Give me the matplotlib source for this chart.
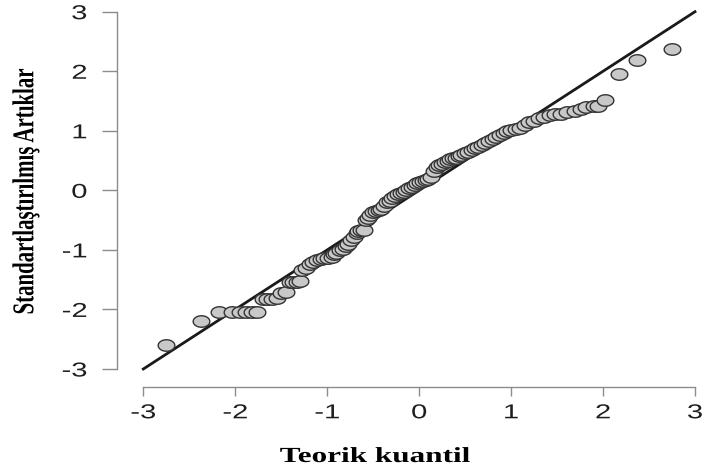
import numpy as np
import matplotlib
matplotlib.use("Agg")
import matplotlib.pyplot as plt
from matplotlib import patheffects
from matplotlib.transforms import Affine2D

plt.rcParams['axes.unicode_minus'] = False

# Theoretical quantiles (x) and standardized residuals (y)
teorik = [-2.75, -2.37, -2.18, -2.04, -1.95, -1.88, -1.82, -1.76, -1.70, -1.65,
          -1.60, -1.55, -1.50, -1.45, -1.41, -1.37, -1.33, -1.30, -1.27, -1.23,
          -1.19, -1.15, -1.11, -1.07, -1.03, -0.99, -0.95, -0.93, -0.90, -0.86,
          -0.83, -0.80, -0.77, -0.74, -0.71, -0.68, -0.66, -0.63, -0.60, -0.58,
          -0.56, -0.53, -0.50, -0.47, -0.44, -0.41, -0.38, -0.35, -0.32, -0.29,
          -0.26, -0.23, -0.20, -0.17, -0.14, -0.11, -0.08, -0.05, -0.02, 0.01,
          0.04, 0.07, 0.10, 0.13, 0.16, 0.19, 0.22, 0.25, 0.28, 0.31,
          0.34, 0.37, 0.40, 0.43, 0.46, 0.50, 0.53, 0.57, 0.61, 0.64,
          0.68, 0.72, 0.76, 0.80, 0.84, 0.88, 0.92, 0.96, 1.00, 1.05,
          1.10, 1.15, 1.20, 1.25, 1.30, 1.36, 1.42, 1.48, 1.54, 1.61,
          1.70, 1.76, 1.82, 1.90, 1.95, 2.02, 2.17, 2.37, 2.75]
artik = [-2.60, -2.20, -2.04, -2.04, -2.04, -2.04, -2.04, -2.04, -1.83, -1.83,
         -1.82, -1.81, -1.73, -1.71, -1.54, -1.54, -1.54, -1.52, -1.34, -1.30,
         -1.23, -1.21, -1.17, -1.15, -1.14, -1.13, -1.12, -1.07, -1.05, -1.00,
         -0.99, -0.93, -0.90, -0.84, -0.79, -0.72, -0.69, -0.67, -0.67, -0.50,
         -0.46, -0.42, -0.37, -0.34, -0.33, -0.31, -0.27, -0.20, -0.18, -0.13,
         -0.09, -0.06, -0.04, -0.02, 0.01, 0.04, 0.06, 0.09, 0.12, 0.14,
         0.15, 0.17, 0.19, 0.22, 0.32, 0.39, 0.42, 0.45, 0.48, 0.50,
         0.52, 0.54, 0.55, 0.57, 0.59, 0.62, 0.64, 0.67, 0.71, 0.73,
         0.76, 0.80, 0.83, 0.86, 0.90, 0.93, 0.96, 0.99, 1.01, 1.03,
         1.05, 1.10, 1.14, 1.17, 1.21, 1.24, 1.27, 1.28, 1.29, 1.31,
         1.34, 1.36, 1.40, 1.41, 1.42, 1.52, 1.95, 2.19, 2.37]

ticks = [-3, -2, -1, 0, 1, 2, 3]
ref_line = [-3, 3]

SX = 1.45  # the source picture is stretched sideways


class Stretch(patheffects.AbstractPathEffect):
    # widen the drawn text horizontally, around its centre or right edge
    def __init__(self, sx, anchor='center'):
        super().__init__()
        self.sx = sx
        self.anchor = anchor

    def draw_path(self, renderer, gc, tpath, affine, rgbFace=None):
        ext = tpath.get_extents(affine)
        cx = ext.x1 if self.anchor == 'right' else (ext.x0 + ext.x1) / 2
        affine = affine + Affine2D().translate(-cx, 0).scale(self.sx, 1).translate(cx, 0)
        renderer.draw_path(gc, tpath, affine, rgbFace)


fig = plt.figure(figsize=(7.04, 4.73), dpi=100)
W, H = 704, 473
ax = fig.add_axes([143.3 / W, (H - 369) / H, (695 - 143.3) / W, (369 - 11.7) / H])
ax.set_xlim(-3, 3)
ax.set_ylim(-3, 3)

# elliptic marker, as circles look in the stretched source
t = np.linspace(0, 2 * np.pi, 60)
ell = list(zip(SX * np.cos(t), np.sin(t)))

ax.plot(ref_line, ref_line, color='#1a1a1a', lw=2.0, zorder=2, clip_on=False)
ax.plot(teorik, artik, ls='none', marker=ell, ms=12, mfc='#c8c8c8',
        mec='#333333', mew=1.0, zorder=3, clip_on=False)

for s in ['top', 'right']:
    ax.spines[s].set_visible(False)
ax.spines['left'].set_position(('outward', 19.2))
ax.spines['bottom'].set_position(('outward', 12.7))
for s in ['left', 'bottom']:
    ax.spines[s].set_bounds(-3, 3)
    ax.spines[s].set_color('#8c8c8c')
    ax.spines[s].set_linewidth(1.0)

ax.set_xticks(ticks)
ax.set_yticks(ticks)
ax.tick_params(axis='y', length=10.8, width=1.0, color='#8c8c8c', pad=10.5,
               labelsize=14.5, labelcolor='#1e1e1e')
ax.tick_params(axis='x', length=6.5, width=1.0, color='#8c8c8c', pad=5.5,
               labelsize=14.5, labelcolor='#1e1e1e')
for lab in ax.get_xticklabels():
    lab.set_fontfamily('Liberation Sans')
    lab.set_path_effects([Stretch(SX)])
for lab in ax.get_yticklabels():
    lab.set_fontfamily('Liberation Sans')
    lab.set_path_effects([Stretch(SX, 'right')])

fig.text(375 / W, 1 - 457 / H, 'Teorik kuantil', ha='center', va='center',
         fontsize=15.5, fontweight='bold', family='Liberation Serif',
         path_effects=[Stretch(SX)])
fig.text(26 / W, 1 - 191 / H, 'Standartlaştırılmış Artıklar', rotation=90,
         ha='center', va='center', fontsize=15, fontweight='bold',
         family='Liberation Serif', path_effects=[Stretch(SX)])

fig.savefig('out.png', dpi=100)
